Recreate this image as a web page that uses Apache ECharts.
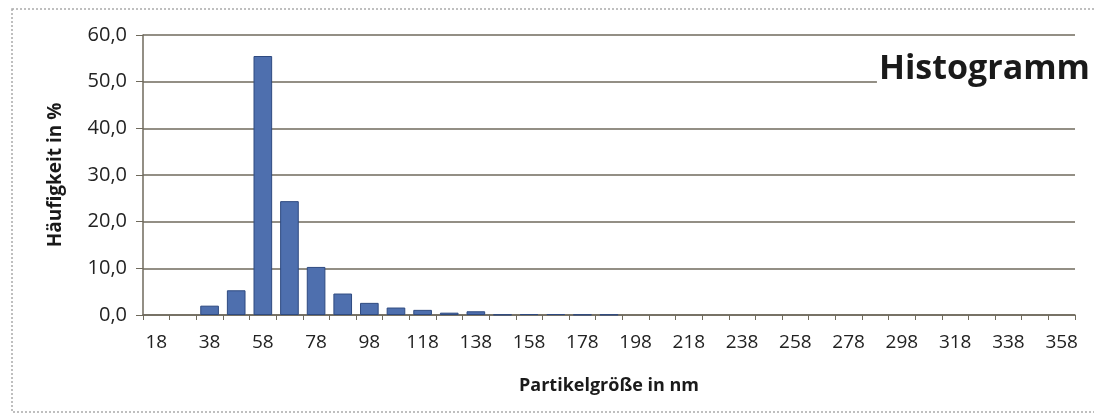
<!DOCTYPE html>
<html>
<head>
<meta charset="utf-8">
<script src="https://cdn.jsdelivr.net/npm/echarts@6/dist/echarts.min.js"></script>
<style>
  html, body { margin: 0; padding: 0; background: #fff; }
  #hist { width: 1094px; height: 419px; }
</style>
</head>
<body>
<div id="hist"></div>
<script>
// Partikelgrößen (Klassenmitte in nm)
var sizes = ['18','28','38','48','58','68','78','88','98','108','118','128','138','148','158','168','178','188',
  '198','208','218','228','238','248','258','268','278','288','298','308','318','328','338','348','358'];
// Häufigkeit in %
var freq = [0, 0, 2.0, 5.3, 55.5, 24.4, 10.3, 4.6, 2.6, 1.6, 1.1, 0.5, 0.8, 0.1, 0.2, 0.2, 0.1, 0.1,
  0, 0, 0, 0, 0, 0, 0, 0, 0, 0, 0, 0, 0, 0, 0, 0, 0];
var yTicks = { min: 0, max: 60, step: 10 };

var lineCol = '#6f6a5c';
var font = "'Open Sans', 'Liberation Sans', sans-serif";

var chart = echarts.init(document.getElementById('hist'));
var option = {
  backgroundColor: '#fff',
  animation: false,
  title: {
    text: 'Histogramm',
    right: 4,
    top: 52,
    backgroundColor: '#fff',
    padding: [0, 0, 0, 2],
    textStyle: { fontFamily: font, fontSize: 34, fontWeight: 'bold', color: '#1a1a1a' }
  },
  graphic: [{
    type: 'rect',
    shape: { x: 12, y: 9, width: 1100, height: 403 },
    style: { fill: null, stroke: '#aaaaaa', lineWidth: 1.5, lineDash: [2, 2] },
    silent: true,
    z: -1
  }],
  grid: { left: 143, right: 19, top: 35, bottom: 104 },
  xAxis: {
    type: 'category',
    data: sizes,
    name: 'Partikelgröße in nm',
    nameLocation: 'middle',
    nameGap: 62,
    nameTextStyle: { fontFamily: font, fontSize: 18, fontWeight: 'bold', color: '#1a1a1a' },
    axisLine: { lineStyle: { color: lineCol, width: 1.5 } },
    axisTick: { show: true, interval: 0, length: 5, lineStyle: { color: lineCol } },
    axisLabel: { interval: 1, margin: 18, fontFamily: font, fontSize: 19, color: '#222' }
  },
  yAxis: {
    type: 'value',
    min: yTicks.min,
    max: yTicks.max,
    interval: yTicks.step,
    name: 'Häufigkeit in %',
    nameLocation: 'middle',
    nameGap: 78,
    nameTextStyle: { fontFamily: font, fontSize: 19, fontWeight: 'bold', color: '#1a1a1a' },
    axisLine: { show: true, lineStyle: { color: lineCol, width: 1.5 } },
    axisTick: { show: true, length: 7, lineStyle: { color: lineCol } },
    splitLine: { lineStyle: { color: lineCol, width: 1.5 } },
    axisLabel: {
      margin: 16,
      fontFamily: font, fontSize: 20, color: '#222',
      formatter: function (v) { return v.toFixed(1).replace('.', ','); }
    }
  },
  series: [{
    type: 'bar',
    // leere Klassen ohne Balken
    data: freq.map(function (v) { return v === 0 ? '-' : v; }),
    barWidth: '70%',
    itemStyle: { color: '#4e6fae', borderColor: '#2e4a80', borderWidth: 1 }
  }]
};
chart.setOption(option);
</script>
</body>
</html>
